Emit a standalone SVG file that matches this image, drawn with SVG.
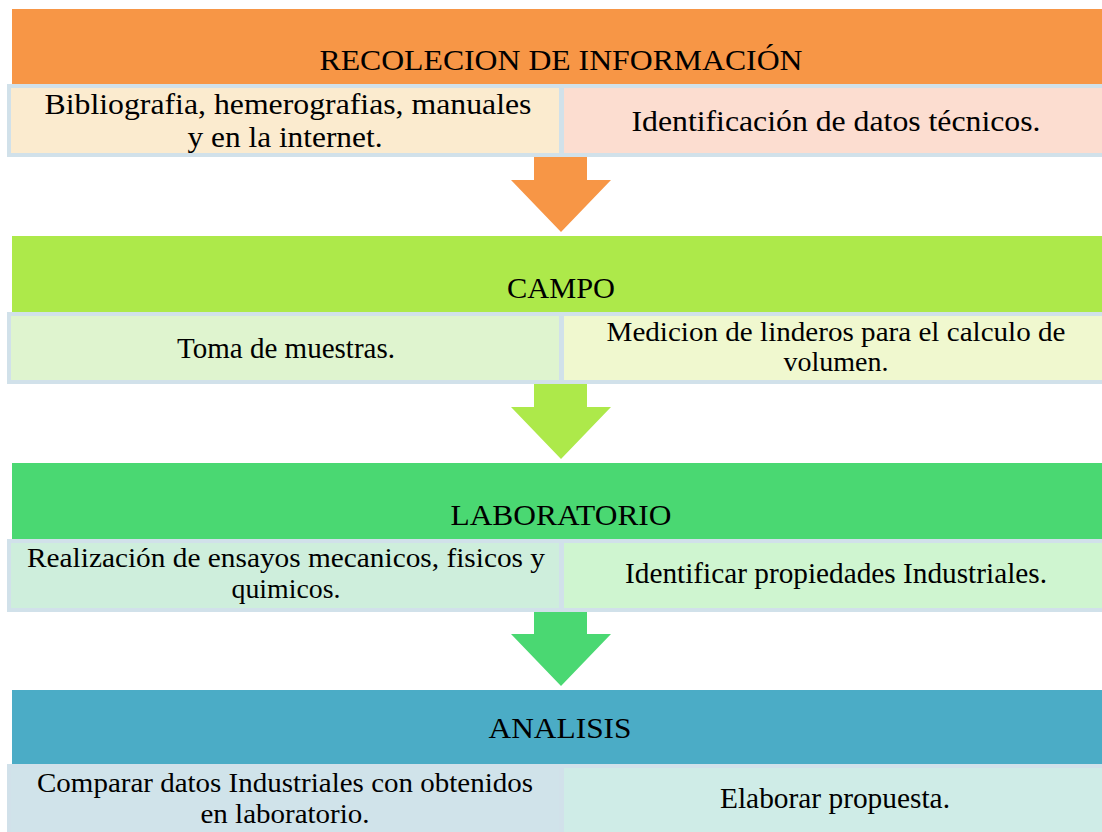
<svg xmlns="http://www.w3.org/2000/svg" width="1102" height="832" viewBox="0 0 1102 832">
<style>
text{font-family:'Liberation Serif','Tinos','Noto Serif','DejaVu Serif',serif;fill:#000;text-anchor:middle}
.t{font-size:30px}
.b{font-size:30px}
.s{font-size:28px}
.row{stroke:#D1E1EA;stroke-width:4}
</style>
<rect width="1102" height="832" fill="#fff"/>
<g id="connectors">
<polygon points="534,157 587,157 587,180 611,180 561,232 511,180 534,180" fill="#F79646"/>
<polygon points="534,384 587,384 587,407 611,407 561,459 511,407 534,407" fill="#ADE94A"/>
<polygon points="534,611 587,611 587,634 611,634 561,686 511,634 534,634" fill="#4AD872"/>
</g>
<g id="stage1">
<rect x="12" y="9" width="1092" height="75" fill="#F79646"/>
<text class="t" x="561" y="70" textLength="483" lengthAdjust="spacingAndGlyphs">RECOLECION DE INFORMACIÓN</text>
</g>
<g id="stage1-left">
<rect class="row" x="9" y="86" width="552" height="69" fill="#FBEBCF"/>
<text class="b" x="288" y="114" textLength="487" lengthAdjust="spacingAndGlyphs">Bibliografia, hemerografias, manuales</text>
<text class="b" x="285" y="147" textLength="195" lengthAdjust="spacingAndGlyphs">y en la internet.</text>
</g>
<g id="stage1-right">
<rect class="row" x="562" y="86" width="545" height="69" fill="#FCDDD0"/>
<text class="b" x="836" y="131" textLength="409" lengthAdjust="spacingAndGlyphs">Identificación de datos técnicos.</text>
</g>
<g id="stage2">
<rect x="12" y="236" width="1092" height="76" fill="#ADE94A"/>
<text class="t" x="561" y="298" textLength="108" lengthAdjust="spacingAndGlyphs">CAMPO</text>
</g>
<g id="stage2-left">
<rect class="row" x="9" y="314" width="552" height="68" fill="#DFF4CF"/>
<text class="b" x="286" y="358" textLength="218" lengthAdjust="spacingAndGlyphs">Toma de muestras.</text>
</g>
<g id="stage2-right">
<rect class="row" x="562" y="314" width="545" height="68" fill="#F0F8CF"/>
<text class="s" x="836" y="341" textLength="459" lengthAdjust="spacingAndGlyphs">Medicion de linderos para el calculo de</text>
<text class="s" x="836" y="371" textLength="105" lengthAdjust="spacingAndGlyphs">volumen.</text>
</g>
<g id="stage3">
<rect x="12" y="463" width="1092" height="76" fill="#4AD872"/>
<text class="t" x="561" y="525" textLength="221" lengthAdjust="spacingAndGlyphs">LABORATORIO</text>
</g>
<g id="stage3-left">
<rect class="row" x="9" y="541" width="552" height="69" fill="#CEEEDC"/>
<text class="s" x="286" y="567" textLength="518" lengthAdjust="spacingAndGlyphs">Realización de ensayos mecanicos, fisicos y</text>
<text class="s" x="286" y="598" textLength="109" lengthAdjust="spacingAndGlyphs">quimicos.</text>
</g>
<g id="stage3-right">
<rect class="row" x="562" y="541" width="545" height="69" fill="#CFF5D0"/>
<text class="b" x="836" y="583" textLength="422" lengthAdjust="spacingAndGlyphs">Identificar propiedades Industriales.</text>
</g>
<g id="stage4">
<rect x="12" y="690" width="1092" height="74" fill="#4BACC6"/>
<text class="t" x="560" y="738" textLength="143" lengthAdjust="spacingAndGlyphs">ANALISIS</text>
</g>
<g id="stage4-left">
<rect class="row" x="9" y="766" width="552" height="70" fill="#D0E3EA"/>
<text class="s" x="285" y="792" textLength="496" lengthAdjust="spacingAndGlyphs">Comparar datos Industriales con obtenidos</text>
<text class="s" x="285" y="823" textLength="169" lengthAdjust="spacingAndGlyphs">en laboratorio.</text>
</g>
<g id="stage4-right">
<rect class="row" x="562" y="766" width="545" height="70" fill="#CFECE7"/>
<text class="b" x="835" y="808" textLength="230" lengthAdjust="spacingAndGlyphs">Elaborar propuesta.</text>
</g>
</svg>
